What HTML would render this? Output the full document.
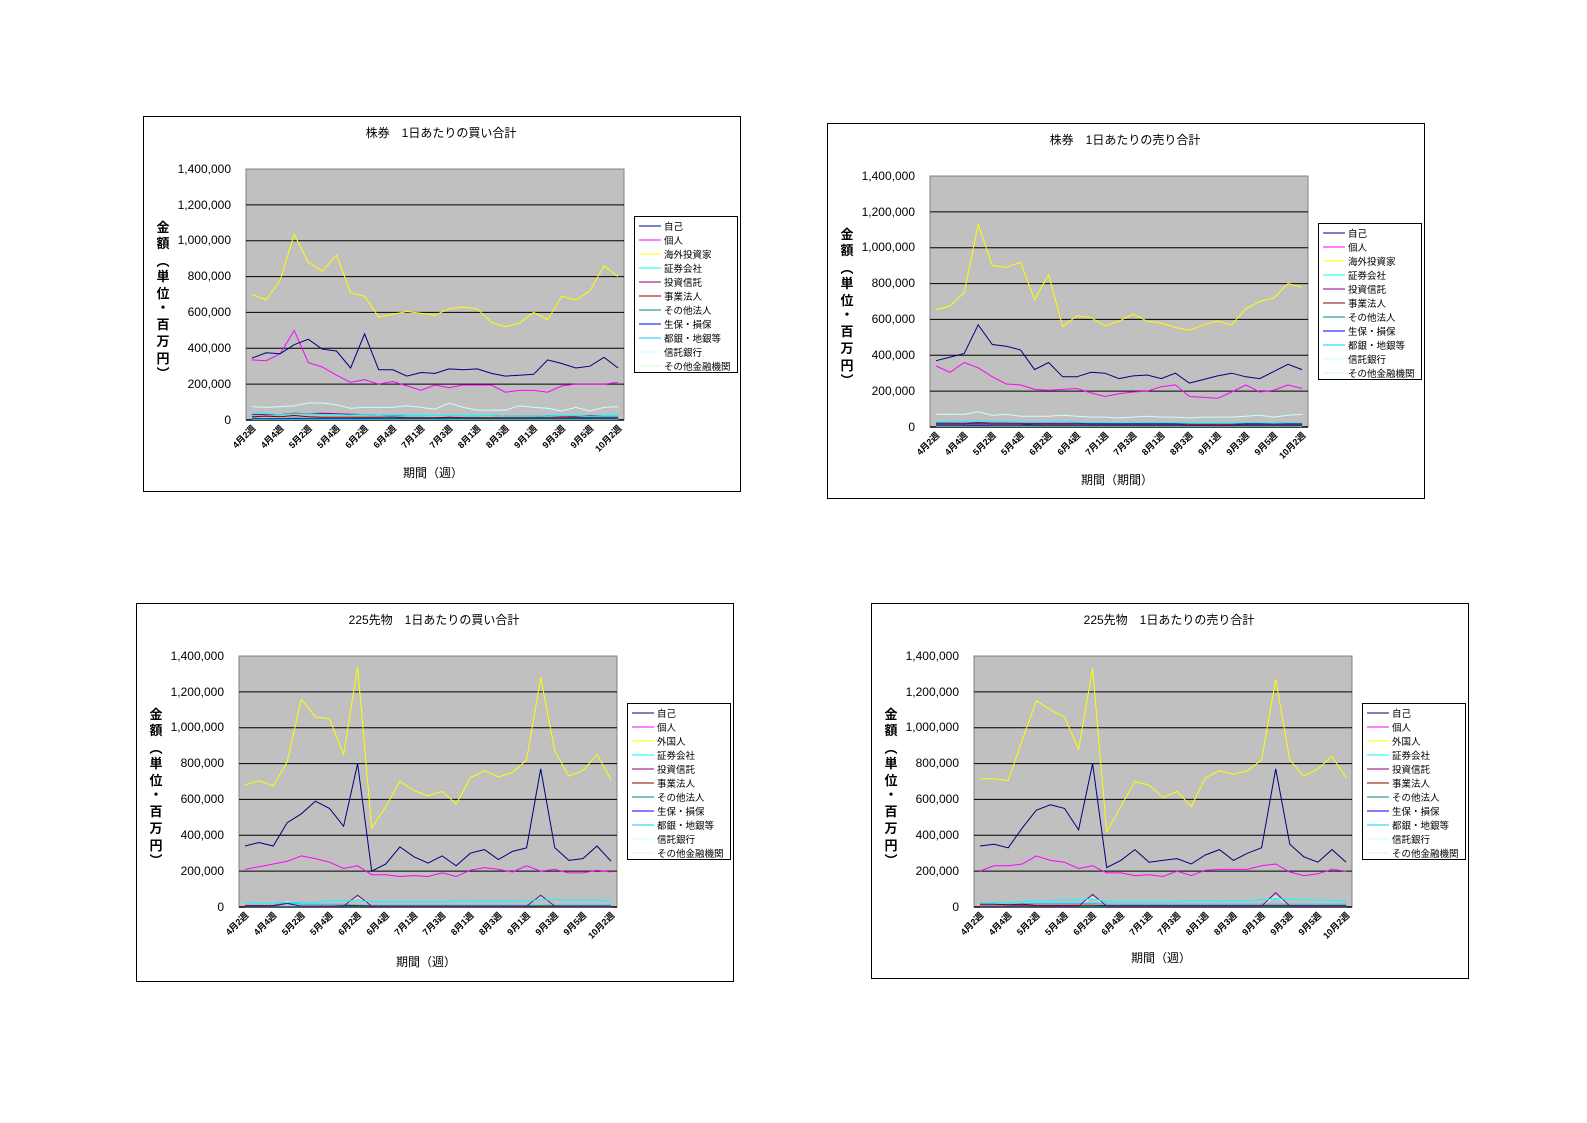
<!DOCTYPE html>
<html><head><meta charset="utf-8"><style>
html,body{margin:0;padding:0;background:#fff;width:1587px;height:1123px;overflow:hidden}
svg{font-family:"Liberation Sans","Noto Sans CJK JP",sans-serif}
.t{font-size:12px;text-anchor:middle}
.yl{font-size:12px;text-anchor:end}
.yv{font-size:13px;text-anchor:middle;font-weight:bold}
.xl{font-size:9px;font-weight:bold;text-anchor:end}
.lg{font-size:9.5px}
</style></head><body>
<svg id="root" width="1587" height="1123" xmlns="http://www.w3.org/2000/svg">
<!-- chart 1 -->
<svg x="143" y="116" width="600" height="380" id="c1">
<rect x="0.5" y="0.5" width="597" height="375" fill="#fff" stroke="#000"/>
<text class="t" x="298" y="21">株券　1日あたりの買い合計</text>
<rect x="103" y="53" width="378" height="251" fill="#c0c0c0" stroke="#808080"/>
<g class="grid"></g><g class="series"></g>
<g class="yl"><text x="88" y="308">0</text><text x="88" y="272">200,000</text><text x="88" y="236">400,000</text><text x="88" y="200">600,000</text><text x="88" y="164">800,000</text><text x="88" y="128">1,000,000</text><text x="88" y="93">1,200,000</text><text x="88" y="57">1,400,000</text></g>
<g class="yv"><text x="20" y="116">金</text><text x="20" y="132">額</text><text x="20" y="150">︵</text><text x="20" y="165">単</text><text x="20" y="182">位</text><text x="20" y="196">・</text><text x="20" y="213">百</text><text x="20" y="230">万</text><text x="20" y="247">円</text><text x="20" y="262">︶</text></g>
<g class="xls"></g>
<text class="t" x="290" y="361">期間（週）</text>
<g class="leg"></g>
</svg>
<!-- chart 2 -->
<svg x="827" y="123" width="600" height="380" id="c2">
<rect x="0.5" y="0.5" width="597" height="375" fill="#fff" stroke="#000"/>
<text class="t" x="298" y="21">株券　1日あたりの売り合計</text>
<rect x="103" y="53" width="378" height="251" fill="#c0c0c0" stroke="#808080"/>
<g class="grid"></g><g class="series"></g>
<g class="yl"><text x="88" y="308">0</text><text x="88" y="272">200,000</text><text x="88" y="236">400,000</text><text x="88" y="200">600,000</text><text x="88" y="164">800,000</text><text x="88" y="128">1,000,000</text><text x="88" y="93">1,200,000</text><text x="88" y="57">1,400,000</text></g>
<g class="yv"><text x="20" y="116">金</text><text x="20" y="132">額</text><text x="20" y="150">︵</text><text x="20" y="165">単</text><text x="20" y="182">位</text><text x="20" y="196">・</text><text x="20" y="213">百</text><text x="20" y="230">万</text><text x="20" y="247">円</text><text x="20" y="262">︶</text></g>
<g class="xls"></g>
<text class="t" x="290" y="361">期間（期間）</text>
<g class="leg"></g>
</svg>
<!-- chart 3 -->
<svg x="136" y="603" width="600" height="382" id="c3">
<rect x="0.5" y="0.5" width="597" height="378" fill="#fff" stroke="#000"/>
<text class="t" x="298" y="21">225先物　1日あたりの買い合計</text>
<rect x="103" y="53" width="378" height="251" fill="#c0c0c0" stroke="#808080"/>
<g class="grid"></g><g class="series"></g>
<g class="yl"><text x="88" y="308">0</text><text x="88" y="272">200,000</text><text x="88" y="236">400,000</text><text x="88" y="200">600,000</text><text x="88" y="164">800,000</text><text x="88" y="128">1,000,000</text><text x="88" y="93">1,200,000</text><text x="88" y="57">1,400,000</text></g>
<g class="yv"><text x="20" y="116">金</text><text x="20" y="132">額</text><text x="20" y="150">︵</text><text x="20" y="165">単</text><text x="20" y="182">位</text><text x="20" y="196">・</text><text x="20" y="213">百</text><text x="20" y="230">万</text><text x="20" y="247">円</text><text x="20" y="262">︶</text></g>
<g class="xls"></g>
<text class="t" x="290" y="363">期間（週）</text>
<g class="leg"></g>
</svg>
<!-- chart 4 -->
<svg x="871" y="603" width="600" height="380" id="c4">
<rect x="0.5" y="0.5" width="597" height="375" fill="#fff" stroke="#000"/>
<text class="t" x="298" y="21">225先物　1日あたりの売り合計</text>
<rect x="103" y="53" width="378" height="251" fill="#c0c0c0" stroke="#808080"/>
<g class="grid"></g><g class="series"></g>
<g class="yl"><text x="88" y="308">0</text><text x="88" y="272">200,000</text><text x="88" y="236">400,000</text><text x="88" y="200">600,000</text><text x="88" y="164">800,000</text><text x="88" y="128">1,000,000</text><text x="88" y="93">1,200,000</text><text x="88" y="57">1,400,000</text></g>
<g class="yv"><text x="20" y="116">金</text><text x="20" y="132">額</text><text x="20" y="150">︵</text><text x="20" y="165">単</text><text x="20" y="182">位</text><text x="20" y="196">・</text><text x="20" y="213">百</text><text x="20" y="230">万</text><text x="20" y="247">円</text><text x="20" y="262">︶</text></g>
<g class="xls"></g>
<text class="t" x="290" y="359">期間（週）</text>
<g class="leg"></g>
</svg>
</svg>
<script>
var NS="http://www.w3.org/2000/svg";
function el(p,n,a,txt){var e=document.createElementNS(NS,n);for(var k in a)e.setAttribute(k,a[k]);if(txt)e.textContent=txt;p.appendChild(e);return e;}
var xlab=["4月2週","4月4週","5月2週","5月4週","6月2週","6月4週","7月1週","7月3週","8月1週","8月3週","9月1週","9月3週","9月5週","10月2週"];
var legA=["自己","個人","海外投資家","証券会社","投資信託","事業法人","その他法人","生保・損保","都銀・地銀等","信託銀行","その他金融機関"];
var legB=["自己","個人","外国人","証券会社","投資信託","事業法人","その他法人","生保・損保","都銀・地銀等","信託銀行","その他金融機関"];
var cols=["#000080","#ff00ff","#ffff00","#00ffff","#800080","#800000","#008080","#0000ff","#00ccff","#ccffff","#ccffcc"];
function X(i){return 109+i*14.08}
function Y(v){return 304-v/1400*251}
var data={
c1:[[345,375,370,420,450,395,385,290,480,280,280,245,265,260,285,280,285,260,245,250,255,335,315,290,300,350,290],
[335,330,370,500,320,295,250,210,225,200,215,190,165,195,180,195,195,195,155,165,165,155,190,200,200,200,210],
[700,670,780,1035,880,830,920,710,690,575,590,605,595,585,620,630,620,545,520,540,600,560,690,670,720,860,800],
[40,35,30,35,35,30,30,28,30,28,30,25,25,25,25,25,25,25,22,22,22,22,25,25,22,25,25],
[30,30,30,38,35,38,35,32,30,28,28,25,25,25,25,25,25,25,22,22,22,22,22,22,25,25,25],
[18,22,18,25,18,15,15,15,15,15,15,12,12,12,15,12,12,12,12,12,12,12,12,12,12,12,12],
[5,5,5,5,5,5,5,5,5,5,5,5,5,5,5,5,5,5,5,5,5,5,5,5,5,5,5],
[8,8,8,10,8,8,8,8,8,8,8,8,8,8,8,8,8,8,8,8,8,8,8,8,8,8,8],
[12,5,5,8,10,8,5,8,10,15,20,15,15,12,15,15,15,12,8,10,12,25,25,15,18,20,20],
[75,70,75,80,95,95,85,65,70,70,70,80,70,60,95,70,55,55,55,80,70,65,50,70,50,70,75],
[3,3,3,3,3,3,3,3,3,3,3,3,3,3,3,3,3,3,3,3,3,3,3,3,3,3,3]],
c2:[[370,390,410,570,460,450,430,320,360,280,280,305,300,270,285,290,270,300,245,265,285,300,280,270,310,350,320],
[340,305,360,330,280,240,235,210,205,210,215,190,170,185,195,200,225,235,170,165,160,195,235,195,205,235,215],
[655,675,750,1130,900,890,920,710,850,560,620,610,565,590,630,590,580,555,540,570,590,570,660,700,720,800,780],
[30,30,30,35,30,30,28,28,28,30,28,25,25,25,25,25,25,25,22,22,22,22,25,25,22,25,25],
[20,22,20,25,22,22,20,20,20,20,20,18,18,18,18,18,18,18,15,15,15,15,18,18,18,18,18],
[15,15,15,18,15,15,15,12,12,12,12,12,12,12,12,12,12,12,10,10,10,10,12,12,12,12,12],
[5,5,5,5,5,5,5,5,5,5,5,5,5,5,5,5,5,5,5,5,5,5,5,5,5,5,5],
[8,8,8,10,8,8,8,8,8,8,8,8,8,8,8,8,8,8,8,8,8,8,8,8,8,8,8],
[25,20,22,25,22,20,20,18,20,20,22,20,20,18,20,20,20,18,18,18,20,22,22,20,22,25,25],
[70,72,70,85,65,70,60,60,60,65,60,55,55,50,55,60,55,55,50,55,55,55,60,65,55,65,70],
[3,3,3,3,3,3,3,3,3,3,3,3,3,3,3,3,3,3,3,3,3,3,3,3,3,3,3]],
c3:[[340,360,340,470,520,590,550,450,800,200,240,335,280,245,285,230,300,320,265,310,330,770,330,260,270,340,255],
[210,225,240,255,285,270,250,215,230,180,180,170,175,170,190,170,205,220,210,195,230,200,210,190,190,205,195],
[680,705,675,810,1160,1060,1050,850,1340,440,560,700,650,620,645,575,720,760,725,750,820,1280,870,730,760,850,710],
[25,22,22,25,25,25,35,35,35,30,30,30,30,30,30,35,35,32,32,32,35,40,40,38,38,38,32],
[5,5,5,20,5,5,5,5,65,5,5,5,5,5,5,5,5,5,5,5,5,65,5,5,5,5,5],
[8,8,8,20,5,5,5,8,8,5,5,5,5,5,5,5,5,5,5,5,5,5,5,5,5,5,5],
[3,3,3,3,3,3,3,3,3,3,3,3,3,3,3,3,3,3,3,3,3,3,3,3,3,3,3],
[3,3,3,2,3,3,3,3,5,3,3,3,3,3,3,3,3,3,3,3,3,3,3,3,3,3,3],
[10,10,10,25,15,15,15,15,10,10,10,10,10,10,10,10,10,10,10,10,10,10,10,10,10,10,10],
[5,5,5,30,5,5,5,5,55,5,5,5,5,5,5,5,5,5,5,5,5,60,5,5,5,5,5],
[2,2,2,2,2,2,2,2,2,2,2,2,2,2,2,2,2,2,2,2,2,2,2,2,2,2,2]],
c4:[[340,350,330,440,540,570,550,430,800,220,260,320,250,260,270,240,290,320,260,300,330,770,350,280,250,320,250],
[200,230,230,240,285,260,250,215,230,190,190,175,180,170,200,175,205,210,210,210,230,240,195,175,185,210,200],
[715,715,705,930,1150,1100,1060,880,1330,420,560,700,680,610,645,560,720,760,740,760,820,1270,820,730,770,840,720],
[25,25,25,30,35,35,40,40,45,30,30,30,30,30,30,35,35,32,35,35,40,45,45,40,38,38,32],
[5,5,5,8,5,5,5,5,70,5,5,5,5,5,5,5,5,5,5,5,5,80,5,5,5,5,5],
[15,15,12,15,10,10,10,10,10,8,8,8,8,8,8,8,8,8,8,8,8,8,8,8,8,8,8],
[3,3,3,3,3,3,3,3,3,3,3,3,3,3,3,3,3,3,3,3,3,3,3,3,3,3,3],
[3,3,3,3,3,3,3,3,3,3,3,3,3,3,3,3,3,3,3,3,3,3,3,3,3,3,3],
[15,15,15,18,20,20,20,20,20,15,15,15,15,15,15,15,15,15,15,15,15,15,15,15,15,15,15],
[5,5,5,5,5,5,5,5,55,5,5,5,5,5,5,5,5,5,5,5,5,60,5,5,5,5,5],
[2,2,2,2,2,2,2,2,2,2,2,2,2,2,2,2,2,2,2,2,2,2,2,2,2,2,2]]
};
["c1","c2","c3","c4"].forEach(function(id){
  var s=document.getElementById(id);
  var g=s.querySelector(".grid");
  for(var k=1;k<=6;k++){var y=304-k*251/7;el(g,"line",{x1:103,x2:481,y1:y,y2:y,stroke:"#000","stroke-width":1});}
  el(g,"line",{x1:103,x2:481,y1:304,y2:304,stroke:"#000","stroke-width":1.5});
  var sg=s.querySelector(".series");var d=data[id];
  for(var j=d.length-1;j>=0;j--){
    var pts=d[j].map(function(v,i){return X(i).toFixed(1)+","+Y(v).toFixed(1)}).join(" ");
    el(sg,"polyline",{points:pts,fill:"none",stroke:cols[j],"stroke-width":1});
  }
  var xg=s.querySelector(".xls");
  xlab.forEach(function(t,k){var x=X(2*k)+4,y=313;el(xg,"text",{class:"xl",x:x,y:y,transform:"rotate(-45 "+x+" "+y+")"},t);});
  var lg=s.querySelector(".leg");
  el(lg,"rect",{x:491.5,y:100.5,width:103,height:156,fill:"#fff",stroke:"#000"});
  var L=(id=="c1"||id=="c2")?legA:legB;
  L.forEach(function(t,k){var y=110+k*14;el(lg,"line",{x1:496,x2:518,y1:y,y2:y,stroke:cols[k]});el(lg,"text",{class:"lg",x:521,y:y+4},t);});
});
</script>
</body></html>
